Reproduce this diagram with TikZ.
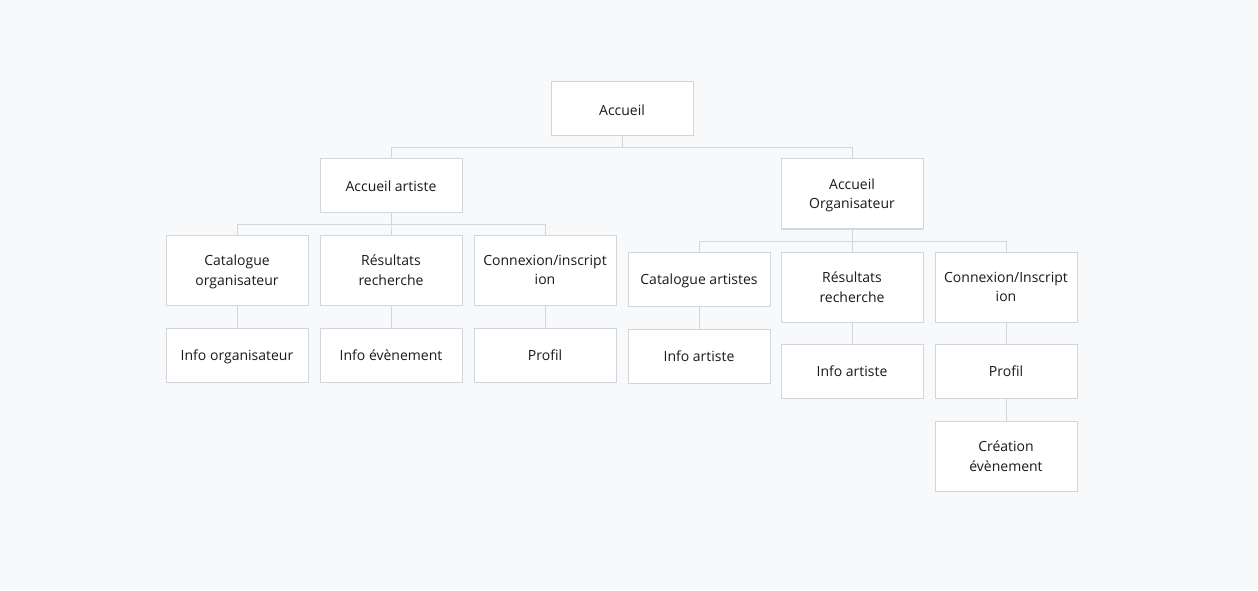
\documentclass[tikz,border=0pt]{standalone}
\usepackage{fontspec}
\setmainfont{Open Sans}
\usetikzlibrary{shadows}
\definecolor{bg}{HTML}{F8F9FB}
\definecolor{edge}{HTML}{D2D5DA}
\definecolor{txt}{HTML}{1A1A1A}
\tikzset{
  x=1pt,y=-1pt,
  box/.style={draw=edge,fill=white,line width=0.9pt,minimum width=142pt,minimum height=54pt,inner sep=0pt,
    align=center,text=txt,font=\fontsize{14pt}{19.5pt}\selectfont,text depth=0pt,
    drop shadow={shadow xshift=0pt,shadow yshift=-1.2pt,opacity=0.12,fill=black}},
  tall/.style={box,minimum height=70pt},
  conn/.style={draw=edge,line width=0.9pt}
}
\begin{document}
\begin{tikzpicture}
\fill[bg] (0,0) rectangle (1258,590);
\useasboundingbox (0,0) rectangle (1258,590);
% level 0
\node[box,text height=14.4pt] (acc) at (622,108) {Accueil};
% level 1
\node[box,text height=12pt] (art) at (391,185) {Accueil artiste};
\node[tall] (org) at (852,193.5) {Accueil\\Organisateur};
% level 2 left
\node[tall] (catorg) at (237,270) {Catalogue\\organisateur};
\node[tall] (resl) at (391,270) {Résultats\\recherche};
\node[tall] (conl) at (545,270) {Connexion/inscript\\ion};
% level 3 left
\node[box] (infoorg) at (237,355) {Info organisateur};
\node[box] (infoev) at (391,355) {Info évènement};
\node[box] (profl) at (545,355) {Profil};
% level 2 right
\node[box] (catart) at (699,279) {Catalogue artistes};
\node[tall] (resr) at (852,287) {Résultats\\recherche};
\node[tall] (conr) at (1006,287) {Connexion/Inscript\\ion};
% level 3 right
\node[box] (infoart1) at (699,356) {Info artiste};
\node[box] (infoart2) at (852,371) {Info artiste};
\node[box] (profr) at (1006,371) {Profil};
\node[tall] (crea) at (1006,456) {Création\\évènement};
% connectors
\draw[conn] (acc.south) -- ++(0,12) -| (art.north);
\draw[conn] (acc.south) -- ++(0,12) -| (org.north);
\draw[conn] (art.south) -- ++(0,12) -| (catorg.north);
\draw[conn] (art.south) -- ++(0,12) -| (resl.north);
\draw[conn] (art.south) -- ++(0,12) -| (conl.north);
\draw[conn] (org.south) -- ++(0,12) -| (catart.north);
\draw[conn] (org.south) -- ++(0,12) -| (resr.north);
\draw[conn] (org.south) -- ++(0,12) -| (conr.north);
\draw[conn] (catorg.south) -- (infoorg.north);
\draw[conn] (resl.south) -- (infoev.north);
\draw[conn] (conl.south) -- (profl.north);
\draw[conn] (catart.south) -- (infoart1.north);
\draw[conn] (resr.south) -- (infoart2.north);
\draw[conn] (conr.south) -- (profr.north);
\draw[conn] (profr.south) -- (crea.north);
\end{tikzpicture}
\end{document}
